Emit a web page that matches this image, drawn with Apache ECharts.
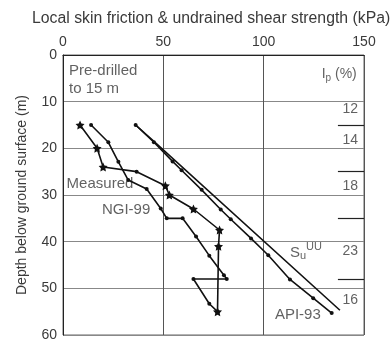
<!DOCTYPE html>
<html><head><meta charset="utf-8">
<script src="https://cdn.jsdelivr.net/npm/echarts@6/dist/echarts.min.js"></script>
<style>html,body{margin:0;padding:0;background:#fff}#c{width:390px;height:342px}</style>
</head><body><div id="c"></div>
<script>
// ---- data (kPa, depth m) ----
const xTicks = [0, 50, 100, 150];
const yTicks = [0, 10, 20, 30, 40, 50, 60];
const measured = [[8.5,15],[17,20],[20,24],[36.7,25],[51,28],[53,30],[65,33],[78,37.5],[77.5,41],[77,55]];
const ngi99 = [[14,15],[22.6,18.7],[27.6,22.9],[32.5,26.8],[41.7,28.7],[48.7,32.9],[51.7,35],[59.6,35],[66.3,38.9],[72.9,43],[80.2,47.2],[81.6,48],[65,48],[72.9,53.3],[77,55]];
const api93 = [[36.2,15],[45.3,18.7],[54.6,22.8],[59.1,24.7],[69.1,28.9],[78.6,33.1],[83.6,35.2],[93.7,39.3],[102.3,42.9],[113.1,48.1],[124.7,52.1],[133.9,55.3]];
const suUU = [[36.2,15],[45.3,18.5],[138,54.7]];
const ipValues = ['12','14','18','23','16'];
const ipDepths = [11.6, 18.3, 28, 42, 52.6];
const ipBoundaries = [15, 25, 35, 48];
const ipColumn = [137, 150];
const annotations = [
  [3, 5.4, 'Pre-drilled\nto 15 m'],
  [1.8, 27.7, 'Measured'],
  [19.4, 33.1, 'NGI-99'],
  [105.6, 55.6, 'API-93']
];

const TXT = '#3a3a3a';
const FONT = 'Liberation Sans, Arial, sans-serif';
const star = 'path://M0,-10 L2.9,-4 L9.5,-3.1 L4.7,1.5 L5.9,8.1 L0,5 L-5.9,8.1 L-4.7,1.5 L-9.5,-3.1 L-2.9,-4 Z';

const chart = echarts.init(document.getElementById('c'), null, {renderer: 'canvas'});
chart.setOption({
  animation: false,
  backgroundColor: '#fff',
  textStyle: {fontFamily: FONT},
  title: {
    text: 'Local skin friction & undrained shear strength (kPa)',
    left: 32, top: 11, padding: 0,
    textStyle: {fontSize: 15.8, fontWeight: 'normal', color: TXT, fontFamily: FONT}
  },
  grid: {left: 63, top: 55, width: 301, height: 284, show: true, borderColor: '#666', borderWidth: 1},
  xAxis: {
    type: 'value', position: 'top', min: xTicks[0], max: xTicks[xTicks.length-1], interval: 50,
    axisLine: {show: true, lineStyle: {color: '#222', width: 1}},
    axisTick: {show: false},
    axisLabel: {color: TXT, fontSize: 14, margin: 6, fontFamily: FONT},
    splitLine: {show: true, lineStyle: {color: '#555', width: 1}}
  },
  yAxis: {
    type: 'value', inverse: true, min: yTicks[0], max: yTicks[yTicks.length-1], interval: 10,
    name: 'Depth below ground surface (m)', nameLocation: 'middle', nameGap: 34,
    nameTextStyle: {color: TXT, fontSize: 14, fontFamily: FONT},
    axisLine: {show: true, lineStyle: {color: '#222', width: 1}},
    axisTick: {show: false},
    axisLabel: {color: TXT, fontSize: 14, margin: 6, fontFamily: FONT},
    splitLine: {show: true, lineStyle: {color: '#888', width: 1}}
  },
  series: [
    {type: 'line', name: 'Su', data: suUU, symbol: 'none', lineStyle: {color: '#111', width: 1.6}, z: 3},
    {type: 'line', name: 'API-93', data: api93, symbol: 'circle', symbolSize: 4,
     itemStyle: {color: '#111'}, lineStyle: {color: '#111', width: 1.6}, z: 3},
    {type: 'line', name: 'NGI-99', data: ngi99, symbol: 'circle', symbolSize: 4,
     itemStyle: {color: '#111'}, lineStyle: {color: '#111', width: 1.6}, z: 3},
    {type: 'line', name: 'Measured',
     data: measured.map((p, i) => i === 3 ? {value: p, symbol: 'circle', symbolSize: 4} : {value: p}),
     symbol: star, symbolSize: 9,
     itemStyle: {color: '#111'}, lineStyle: {color: '#111', width: 1.6}, z: 4},
    {type: 'line', data: [], silent: true,
     markLine: {symbol: 'none', silent: true, label: {show: false},
       lineStyle: {color: '#222', width: 1.2, type: 'solid'},
       data: ipBoundaries.map(d => [{coord: [ipColumn[0], d]}, {coord: [ipColumn[1], d]}])}},
    {type: 'scatter', symbolSize: 0, silent: true,
     data: ipValues.map((v, i) => ({value: [147, ipDepths[i]], name: v})),
     label: {show: true, position: 'left', distance: 0, formatter: p => p.name, color: TXT, fontSize: 14, fontFamily: FONT}},
    {type: 'scatter', symbolSize: 0, silent: true,
     data: [{value: [146.4, 4.2]}],
     label: {show: true, position: 'left', distance: 0, formatter: '{a|I}{b|p}{a| (%)}',
       rich: {a: {fontSize: 14, color: TXT, fontFamily: FONT}, b: {fontSize: 10, color: TXT, fontFamily: FONT, padding: [8, 0, 0, 0]}}}},
    {type: 'scatter', symbolSize: 0, silent: true,
     data: [{value: [113.1, 42.3]}],
     label: {show: true, position: 'right', distance: 0, formatter: '{a|S}{b|u}{c|UU}',
       rich: {a: {fontSize: 15, color: TXT, fontFamily: FONT}, b: {fontSize: 11, color: TXT, fontFamily: FONT, padding: [8, 0, 0, 0]}, c: {fontSize: 11, color: TXT, fontFamily: FONT, padding: [0, 0, 10, 0]}}}},
    {type: 'scatter', symbolSize: 0, silent: true,
     data: annotations.map(a => ({value: [a[0], a[1]], name: a[2]})),
     label: {show: true, position: 'right', distance: 0, formatter: p => p.name, color: TXT, fontSize: 15, lineHeight: 18, fontFamily: FONT}}
  ]
});
</script></body></html>
